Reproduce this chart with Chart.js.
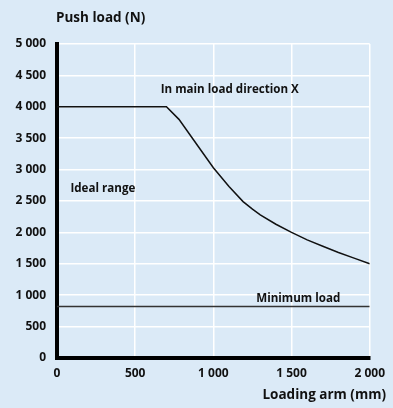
<!DOCTYPE html>
<html>
<head>
<meta charset="utf-8">
<script src="https://cdn.jsdelivr.net/npm/chart.js@4.4.1/dist/chart.umd.min.js"></script>
<style>
  html, body { margin: 0; padding: 0; background: #dbeaf7; }
  #wrap { width: 393px; height: 408px; position: relative; }
</style>
</head>
<body>
<div id="wrap"><canvas id="loadChart"></canvas></div>
<script>
// loading arm (mm) and push load (N) in main load direction X
const armMm = [0, 700, 780, 900, 1000, 1100, 1190, 1250, 1300, 1400, 1500, 1600, 1700, 1800, 1900, 2000];
const pushLoad = [4000, 4000, 3800, 3380, 3030, 2730, 2490, 2370, 2280, 2130, 2000, 1880, 1780, 1680, 1590, 1500];

// minimum load line
const minArmMm = [0, 2000];
const minLoad = [820, 820];

const xTicks = [0, 500, 1000, 1500, 2000];
const yTicks = [0, 500, 1000, 1500, 2000, 2500, 3000, 3500, 4000, 4500, 5000];

// text placed at data positions
const notes = [
  { text: 'In main load direction X', x: 1105, y: 4275, align: 'center' },
  { text: 'Ideal range', x: 86, y: 2700, align: 'left' },
  { text: 'Minimum load', x: 1543, y: 950, align: 'center' }
];

const fontFamily = '"Open Sans", sans-serif';
const ink = '#111';

const fmt = v => {
  const s = String(v);
  return s.length > 3 ? s.slice(0, -3) + ' ' + s.slice(-3) : s;
};

const textPlugin = {
  id: 'texts',
  afterDatasetsDraw(chart) {
    const { ctx, scales } = chart;
    ctx.save();
    ctx.fillStyle = ink;
    ctx.font = 'bold 11.6px ' + fontFamily;
    ctx.textBaseline = 'middle';
    notes.forEach(n => {
      ctx.textAlign = n.align;
      ctx.fillText(n.text, scales.x.getPixelForValue(n.x), scales.y.getPixelForValue(n.y));
    });
    ctx.font = 'bold 13.5px ' + fontFamily;
    ctx.textAlign = 'left';
    ctx.fillText('Push load (N)', 56, 18);
    ctx.textAlign = 'right';
    ctx.fillText('Loading arm (mm)', 386, 395);
    ctx.restore();
  }
};

new Chart(document.getElementById('loadChart'), {
  type: 'line',
  data: {
    datasets: [
      {
        data: armMm.map((x, i) => ({ x: x, y: pushLoad[i] })),
        borderColor: ink,
        borderWidth: 1.5,
        pointRadius: 0,
        tension: 0
      },
      {
        data: minArmMm.map((x, i) => ({ x: x, y: minLoad[i] })),
        borderColor: '#333',
        borderWidth: 1.5,
        pointRadius: 0
      }
    ]
  },
  options: {
    responsive: true,
    maintainAspectRatio: false,
    animation: false,
    layout: { padding: { top: 44, right: 23, left: 0, bottom: 0 } },
    plugins: { legend: { display: false }, tooltip: { enabled: false } },
    scales: {
      x: {
        type: 'linear',
        min: 0,
        max: 2000,
        afterFit: s => { s.height = 50; },
        afterBuildTicks: s => { s.ticks = xTicks.map(v => ({ value: v })); },
        ticks: {
          color: ink,
          padding: 8,
          maxRotation: 0,
          font: { family: fontFamily, size: 12, weight: 'bold' },
          callback: v => fmt(v)
        },
        grid: { color: '#ffffff', lineWidth: 1.5, drawTicks: false },
        border: { color: '#000', width: 4 }
      },
      y: {
        min: 0,
        max: 5000,
        afterFit: s => { s.width = 57; },
        afterBuildTicks: s => { s.ticks = yTicks.map(v => ({ value: v })); },
        ticks: {
          color: ink,
          padding: 11,
          font: { family: fontFamily, size: 12, weight: 'bold' },
          callback: v => fmt(v)
        },
        grid: { color: '#ffffff', lineWidth: 1.5, drawTicks: false },
        border: { color: '#000', width: 4 }
      }
    }
  },
  plugins: [textPlugin]
});
</script>
</body>
</html>
